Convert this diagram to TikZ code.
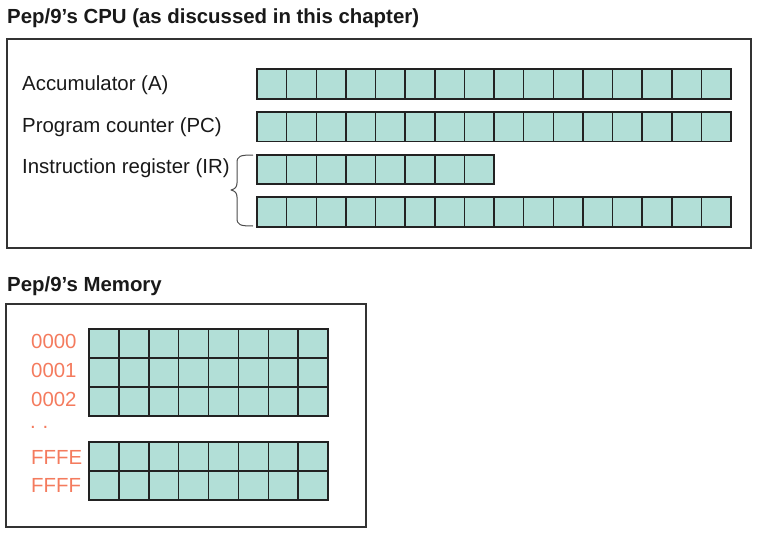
\documentclass[tikz,border=0pt]{standalone}
\usepackage{fontspec}
\setmainfont{Liberation Sans}
\definecolor{cellfill}{HTML}{B2DFD7}
\definecolor{addr}{HTML}{F47B5E}
\definecolor{linec}{HTML}{222222}
\definecolor{boxc}{HTML}{333333}
\tikzset{
  cellbox/.style={fill=cellfill, draw=linec, line width=1.5pt},
  frame/.style={draw=boxc, line width=1.4pt},
  title/.style={anchor=base west, inner sep=0pt, font=\fontsize{20.4}{24}\selectfont\bfseries, text=black!90},
  lbl/.style={anchor=base west, inner sep=0pt, font=\fontsize{20.4}{24}\selectfont, text=black!90},
  addrlbl/.style={anchor=base west, inner sep=0pt, font=\fontsize{20.4}{24}\selectfont, text=addr},
}
\begin{document}
\begin{tikzpicture}[x=1pt,y=-1pt]
\useasboundingbox (0,0) rectangle (763,535);
% titles
\node[title] (cputitle) at (7,24) {Pep/9’s CPU (as discussed in this chapter)};
\node[title] (memtitle) at (7,291) {Pep/9’s Memory};
% frames
\draw[frame] (7,39) rectangle (751,248);
\draw[frame] (6,304) rectangle (366,527);
% CPU labels
\node[lbl] (acc) at (22,91) {Accumulator (A)};
\node[lbl] (pc) at (22,132) {Program counter (PC)};
\node[lbl] (ir) at (22,173) {Instruction register (IR)};
% registers
\foreach \i in {0,...,15} {
  \draw[cellbox] (257+\i*29.625,69) rectangle ++(29.625,30);
  \draw[cellbox] (257+\i*29.625,112) rectangle ++(29.625,29.5);
  \draw[cellbox] (257+\i*29.625,197) rectangle ++(29.625,30);
}
\foreach \i in {0,...,7} {
  \draw[cellbox] (257+\i*29.625,155) rectangle ++(29.625,29);
}
% brace
\draw[draw=black!70, line width=1pt, line join=round]
  (253,155) .. controls (240,155) and (237,156) .. (237,163)
  -- (237,183) .. controls (237,187) and (235,189) .. (231,190)
  .. controls (235,191) and (237,193) .. (237,197)
  -- (237,218) .. controls (237,225) and (240,226) .. (253,226);
% memory labels
\node[addrlbl] (m0) at (31,348) {0000};
\node[addrlbl] (m1) at (31,377) {0001};
\node[addrlbl] (m2) at (31,406) {0002};
\node[addrlbl] (dots) at (30,428) {.\,\,.};
\node[addrlbl] (m3) at (31,464) {FFFE};
\node[addrlbl] (m4) at (31,492) {FFFF};
% memory cells
\foreach \i in {0,...,7} {
  \foreach \j in {0,1,2} {
    \draw[cellbox] (89+\i*29.875,329+\j*29) rectangle ++(29.875,29);
  }
  \foreach \j in {0,1} {
    \draw[cellbox] (89+\i*29.875,442+\j*29) rectangle ++(29.875,29);
  }
}
\end{tikzpicture}
\end{document}
